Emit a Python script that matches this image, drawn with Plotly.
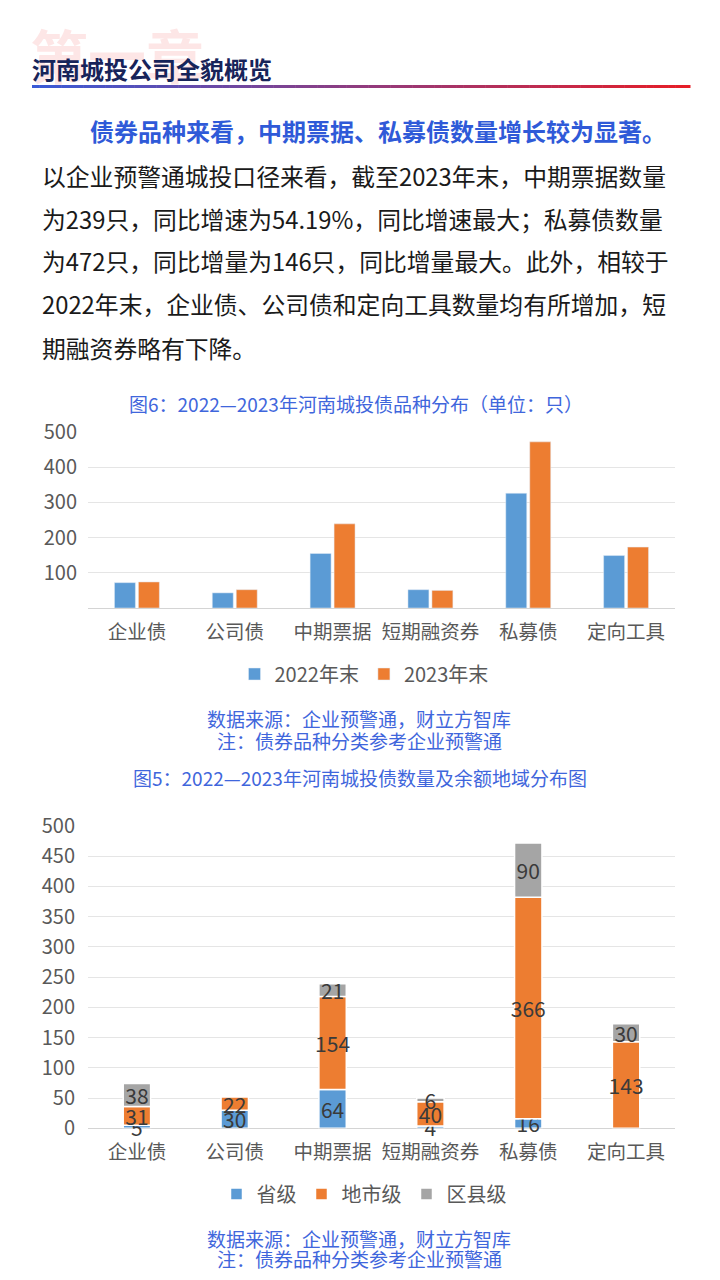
import plotly.graph_objects as go

# ---------------- data ----------------
categories = ["企业债", "公司债", "中期票据", "短期融资券", "私募债", "定向工具"]

# chart 1 (图6)
series1_names = ["2022年末", "2023年末"]
values_2022 = [72, 43, 155, 52, 326, 149]
values_2023 = [74, 52, 239, 50, 472, 173]
ticks1 = [100, 200, 300, 400, 500]

# chart 2 (图5)
series2_names = ["省级", "地市级", "区县级"]
prov = [5, 30, 64, 4, 16, 0]
city = [31, 22, 154, 40, 366, 143]
county = [38, 0, 21, 6, 90, 30]
ticks2 = [0, 50, 100, 150, 200, 250, 300, 350, 400, 450, 500]

title_main = "河南城投公司全貌概览"
chapter = "第一章"
heading = "债券品种来看，中期票据、私募债数量增长较为显著。"
body_lines = [
    "以企业预警通城投口径来看，截至2023年末，中期票据数量",
    "为239只，同比增速为54.19%，同比增速最大；私募债数量",
    "为472只，同比增量为146只，同比增量最大。此外，相较于",
    "2022年末，企业债、公司债和定向工具数量均有所增加，短",
    "期融资券略有下降。",
]
chart1_title = "图6：2022—2023年河南城投债品种分布（单位：只）"
chart2_title = "图5：2022—2023年河南城投债数量及余额地域分布图"
source_lines = ["数据来源：企业预警通，财立方智库", "注：债券品种分类参考企业预警通"]

# ---------------- style ----------------
W, H = 720, 1280
OFF = 8  # page body margin offset
FONT = "Noto Sans CJK SC"
BLUE_C, ORANGE_C, GRAY_C = "#5B9BD5", "#ED7D31", "#A5A5A5"
CAP_BLUE = "#3f66dc"
TICK_C = "#595959"


def px(p):
    return (p - OFF) / W


def py(p):
    return 1 - (p - OFF) / H


fig = go.Figure()

# chart 1 bars
for name, vals, col in [(series1_names[0], values_2022, BLUE_C),
                        (series1_names[1], values_2023, ORANGE_C)]:
    fig.add_trace(go.Bar(x=categories, y=vals, name=name, marker_color=col,
                         xaxis="x", yaxis="y", legend="legend"))

# chart 2 stacked bars (explicit bases)
base_city = prov
base_county = [a + b for a, b in zip(prov, city)]
for name, vals, base, col in [(series2_names[0], prov, None, BLUE_C),
                              (series2_names[1], city, base_city, ORANGE_C),
                              (series2_names[2], county, base_county, GRAY_C)]:
    fig.add_trace(go.Bar(
        x=categories, y=vals, base=base, name=name, marker_color=col,
        marker_line_color="white", marker_line_width=1.5,
        width=0.28, offsetgroup="s", cliponaxis=False,
        text=[str(v) if v else "" for v in vals],
        textposition="inside", insidetextanchor="middle", constraintext="none",
        textangle=0,
        textfont=dict(family=FONT, size=21, color="#3a3a3a"),
        xaxis="x2", yaxis="y2", legend="legend2"))

axis_common = dict(showline=False, ticks="")
xfont = dict(family=FONT, size=19.5, color=TICK_C)
yfont = dict(family=FONT, size=20, color=TICK_C)
xdom = [px(88), px(675)]

legend_common = dict(orientation="h", xanchor="center", yanchor="middle",
                     font=dict(family=FONT, size=20, color=TICK_C), itemwidth=30,
                     traceorder="normal", bgcolor="rgba(0,0,0,0)")

fig.update_layout(
    width=W, height=H, margin=dict(l=0, r=0, t=0, b=0, autoexpand=False),
    paper_bgcolor="white", plot_bgcolor="white",
    barmode="group", bargap=0.51, bargroupgap=0.125,
    font=dict(family=FONT, color=TICK_C),
    xaxis=dict(domain=xdom, anchor="y", type="category", tickfont=xfont,
               ticklabelstandoff=10, **axis_common),
    yaxis=dict(domain=[py(608), py(432)], anchor="x", range=[0, 500],
               tickvals=ticks1, showgrid=True, gridcolor="#e5e5e5", gridwidth=1,
               zeroline=True, zerolinecolor="#d4d4d4", zerolinewidth=1.2,
               tickfont=yfont, ticklabelstandoff=10, **axis_common),
    xaxis2=dict(domain=xdom, anchor="y2", type="category", tickfont=xfont,
                ticklabelstandoff=10, **axis_common),
    yaxis2=dict(domain=[py(1128.3), py(826)], anchor="x2", range=[0, 500],
                tickvals=ticks2, showgrid=True, gridcolor="#e5e5e5", gridwidth=1,
                zeroline=True, zerolinecolor="#d4d4d4", zerolinewidth=1.2,
                tickfont=yfont, ticklabelstandoff=12, **axis_common),
    legend=dict(x=px(364), y=py(674), **legend_common),
    legend2=dict(x=px(364), y=py(1194), **legend_common),
    showlegend=True,
)

annotations = []


def add_text(text, x, y, size, color, xanchor="left", bold=False):
    t = f"<b>{text}</b>" if bold else text
    annotations.append(dict(text=t, x=px(x), y=py(y), xref="paper", yref="paper",
                            xanchor=xanchor, yanchor="middle", showarrow=False,
                            font=dict(family=FONT, size=size, color=color)))


# header
add_text(chapter, 28, 54, 58, "rgba(246,160,160,0.26)", bold=True)
add_text(title_main, 30, 68, 24, "#17245a", bold=True)
# heading + body
add_text(heading, 88, 131, 24, "#2f5ad8", bold=True)
for i, line in enumerate(body_lines):
    add_text(line, 40, 175 + i * 43, 23.8, "#1a1a1a")
# chart captions
add_text(chart1_title, 356, 404, 19, CAP_BLUE, xanchor="center")
add_text(source_lines[0], 359, 718, 19, CAP_BLUE, xanchor="center")
add_text(source_lines[1], 359, 740, 19, CAP_BLUE, xanchor="center")
add_text(chart2_title, 360, 777, 19, CAP_BLUE, xanchor="center")
add_text(source_lines[0], 359, 1238, 19, CAP_BLUE, xanchor="center")
add_text(source_lines[1], 359, 1258, 19, CAP_BLUE, xanchor="center")
fig.update_layout(annotations=annotations)

# gradient underline (decoration)
shapes = []
N = 90
x0, x1 = 32, 690
c0, c1 = (59, 90, 214), (230, 30, 40)
for i in range(N):
    t = i / (N - 1)
    r = int(c0[0] + (c1[0] - c0[0]) * t)
    g = int(c0[1] + (c1[1] - c0[1]) * t)
    b = int(c0[2] + (c1[2] - c0[2]) * t)
    xa = x0 + (x1 - x0) * i / N
    xb = x0 + (x1 - x0) * (i + 1) / N + 0.5
    shapes.append(dict(type="rect", xref="paper", yref="paper",
                       x0=px(xa), x1=px(xb), y0=py(88), y1=py(85),
                       fillcolor=f"rgb({r},{g},{b})", line=dict(width=0), layer="above"))
fig.update_layout(shapes=shapes)

fig.write_html("out.html")
